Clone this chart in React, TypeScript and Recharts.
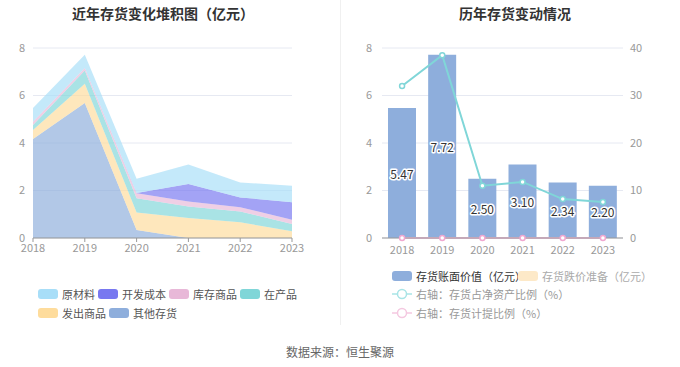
import { AreaChart, Area, XAxis, YAxis, CartesianGrid, ComposedChart, Bar, Line, LabelList } from 'recharts';

const years = ['2018', '2019', '2020', '2021', '2022', '2023'];

// stacked composition (亿元)
const rawMaterial = [0.57, 0.56, 0.6, 0.83, 0.63, 0.69];
const devCost = [0, 0, 0.02, 0.73, 0.41, 0.74];
const finishedGoods = [0.14, 0.11, 0.21, 0.21, 0.18, 0.18];
const wip = [0.21, 0.56, 0.6, 0.49, 0.46, 0.31];
const shipped = [0.38, 0.81, 0.73, 0.84, 0.66, 0.28];
const otherInv = [4.17, 5.68, 0.34, 0, 0, 0];

// right chart
const bookValue = [5.47, 7.72, 2.5, 3.1, 2.34, 2.2];
const impairment = [0, 0, 0, 0, 0, 0];
const ratioNetAssets = [32.0, 38.5, 11.0, 11.8, 8.2, 7.6];
const provisionRatio = [0, 0, 0, 0, 0, 0];

const leftTicks = [0, 2, 4, 6, 8];
const rightTicks = [0, 10, 20, 30, 40];

const FONT = '"Noto Sans CJK SC", "Noto Sans", sans-serif';

const stackData = years.map((y, i) => ({
  year: y,
  rawMaterial: rawMaterial[i],
  devCost: devCost[i],
  finishedGoods: finishedGoods[i],
  wip: wip[i],
  shipped: shipped[i],
  otherInv: otherInv[i]
}));

// impairment is all zero, so only its legend entry shows
const barData = years.map((y, i) => ({
  year: y,
  bookValue: bookValue[i] + impairment[i],
  ratioNetAssets: ratioNetAssets[i],
  provisionRatio: provisionRatio[i]
}));

const areaSeries = [
  { key: 'otherInv', name: '其他存货', color: '#8eaedc' },
  { key: 'shipped', name: '发出商品', color: '#fedc9c' },
  { key: 'wip', name: '在产品', color: '#80d6d8' },
  { key: 'finishedGoods', name: '库存商品', color: '#e8b8d8' },
  { key: 'devCost', name: '开发成本', color: '#7878f0' },
  { key: 'rawMaterial', name: '原材料', color: '#a8def8' }
];

const leftLegend = [
  { name: '原材料', color: '#a8def8', x: 38, y: 294 },
  { name: '开发成本', color: '#7878f0', x: 98, y: 294 },
  { name: '库存商品', color: '#e8b8d8', x: 169, y: 294 },
  { name: '在产品', color: '#80d6d8', x: 240, y: 294 },
  { name: '发出商品', color: '#fedc9c', x: 38, y: 313 },
  { name: '其他存货', color: '#8eaedc', x: 109, y: 313 }
];

const tickStyle = { fill: '#999', fontSize: 11, fontFamily: FONT };

const BarValue = (props: any) => {
  const { x, y, width, height, value } = props;
  return (
    <text
      x={x + width / 2}
      y={y + height / 2}
      textAnchor="middle"
      dominantBaseline="central"
      fontSize={12}
      fontFamily={FONT}
      fill="#333"
      stroke="#fff"
      strokeWidth={3}
      paintOrder="stroke"
      strokeLinejoin="round"
    >
      {Number(value).toFixed(2)}
    </text>
  );
};

const Swatch = ({ color }: { color: string }) => (
  <span style={{ display: 'inline-block', width: 20, height: 10, borderRadius: 3, background: color, marginRight: 4 }} />
);

const LineIcon = ({ color }: { color: string }) => (
  <svg width={20} height={12} style={{ marginRight: 4 }}>
    <line x1={0} y1={6} x2={20} y2={6} stroke={color} strokeWidth={1.5} />
    <circle cx={10} cy={6} r={4.5} fill="#fff" stroke={color} strokeWidth={1.5} />
  </svg>
);

const App = () => {
  return (
    <div style={{ position: 'absolute', left: 0, top: 0, width: 680, height: 367, background: '#fff', fontFamily: FONT, overflow: 'hidden' }}>
      <div style={{ position: 'absolute', left: 0, width: 326, top: 3, textAlign: 'center', fontSize: 14, fontWeight: 'bold', color: '#333' }}>
        近年存货变化堆积图（亿元）
      </div>
      <div style={{ position: 'absolute', left: 345, width: 340, top: 3, textAlign: 'center', fontSize: 14, fontWeight: 'bold', color: '#333' }}>
        历年存货变动情况
      </div>
      <div style={{ position: 'absolute', left: 340, top: 0, width: 1, height: 325, background: '#f0f0f0' }} />

      <div style={{ position: 'absolute', left: 0, top: 0 }}>
        <AreaChart width={340} height={268} data={stackData} margin={{ top: 48, right: 48, bottom: 0, left: 0 }}>
          <CartesianGrid horizontal vertical={false} stroke="#e6e9f2" />
          <XAxis
            dataKey="year"
            height={30}
            tick={tickStyle}
            axisLine={{ stroke: '#999' }}
            tickLine={{ stroke: '#999' }}
            tickSize={4}
            tickMargin={2}
            interval={0}
          />
          <YAxis
            width={33}
            domain={[0, 8]}
            ticks={leftTicks}
            tick={tickStyle}
            axisLine={false}
            tickLine={false}
            tickSize={0}
            tickMargin={8}
          />
          {areaSeries.map((s) => (
            <Area
              key={s.key}
              type="linear"
              dataKey={s.key}
              name={s.name}
              stackId="s"
              stroke="none"
              fill={s.color}
              fillOpacity={0.68}
              isAnimationActive={false}
            />
          ))}
        </AreaChart>
      </div>

      <div style={{ position: 'absolute', left: 340, top: 0 }}>
        <ComposedChart width={340} height={268} data={barData} margin={{ top: 48, right: 27, bottom: 0, left: 0 }}>
          <CartesianGrid horizontal vertical={false} stroke="#e6e9f2" yAxisId="left" />
          <XAxis
            dataKey="year"
            height={30}
            tick={tickStyle}
            axisLine={{ stroke: '#999' }}
            tickLine={false}
            tickSize={0}
            tickMargin={8}
            interval={0}
          />
          <YAxis
            yAxisId="left"
            width={42}
            domain={[0, 8]}
            ticks={leftTicks}
            tick={tickStyle}
            axisLine={false}
            tickLine={false}
            tickSize={0}
            tickMargin={10}
          />
          <YAxis
            yAxisId="right"
            orientation="right"
            width={30}
            domain={[0, 40]}
            ticks={rightTicks}
            tick={tickStyle}
            axisLine={false}
            tickLine={false}
            tickSize={0}
            tickMargin={7}
          />
          <Bar yAxisId="left" dataKey="bookValue" name="存货账面价值（亿元）" fill="#8eaedc" barSize={28} isAnimationActive={false}>
            <LabelList dataKey="bookValue" content={BarValue} />
          </Bar>
          <Line
            yAxisId="right"
            type="linear"
            dataKey="ratioNetAssets"
            name="右轴：存货占净资产比例（%）"
            stroke="#80d6d8"
            strokeWidth={2}
            dot={{ r: 2.5, fill: '#fff', stroke: '#80d6d8', strokeWidth: 1.5 }}
            isAnimationActive={false}
          />
          <Line
            yAxisId="right"
            type="linear"
            dataKey="provisionRatio"
            name="右轴：存货计提比例（%）"
            stroke="#f0b8d8"
            strokeWidth={2}
            dot={{ r: 2.5, fill: '#fff', stroke: '#f0a8d0', strokeWidth: 1.5 }}
            isAnimationActive={false}
          />
        </ComposedChart>
      </div>

      {leftLegend.map((l) => (
        <div key={l.name} style={{ position: 'absolute', left: l.x, top: l.y - 8, height: 16, display: 'flex', alignItems: 'center', fontSize: 11, color: '#555', whiteSpace: 'nowrap' }}>
          <Swatch color={l.color} />
          {l.name}
        </div>
      ))}

      <div style={{ position: 'absolute', left: 392, top: 268, height: 16, display: 'flex', alignItems: 'center', fontSize: 11, color: '#333', whiteSpace: 'nowrap' }}>
        <Swatch color="#8eaedc" />
        存货账面价值（亿元）
      </div>
      <div style={{ position: 'absolute', left: 518, top: 268, height: 16, display: 'flex', alignItems: 'center', fontSize: 11, color: '#aaa', whiteSpace: 'nowrap' }}>
        <Swatch color="#fde9c8" />
        存货跌价准备（亿元）
      </div>
      <div style={{ position: 'absolute', left: 392, top: 286, height: 16, display: 'flex', alignItems: 'center', fontSize: 11, color: '#999', whiteSpace: 'nowrap' }}>
        <LineIcon color="#a8e4e6" />
        右轴：存货占净资产比例（%）
      </div>
      <div style={{ position: 'absolute', left: 392, top: 305, height: 16, display: 'flex', alignItems: 'center', fontSize: 11, color: '#999', whiteSpace: 'nowrap' }}>
        <LineIcon color="#f4c8e0" />
        右轴：存货计提比例（%）
      </div>

      <div style={{ position: 'absolute', left: 0, width: 680, top: 343, textAlign: 'center', fontSize: 12, color: '#666' }}>
        数据来源：恒生聚源
      </div>
    </div>
  );
};

export default App;
